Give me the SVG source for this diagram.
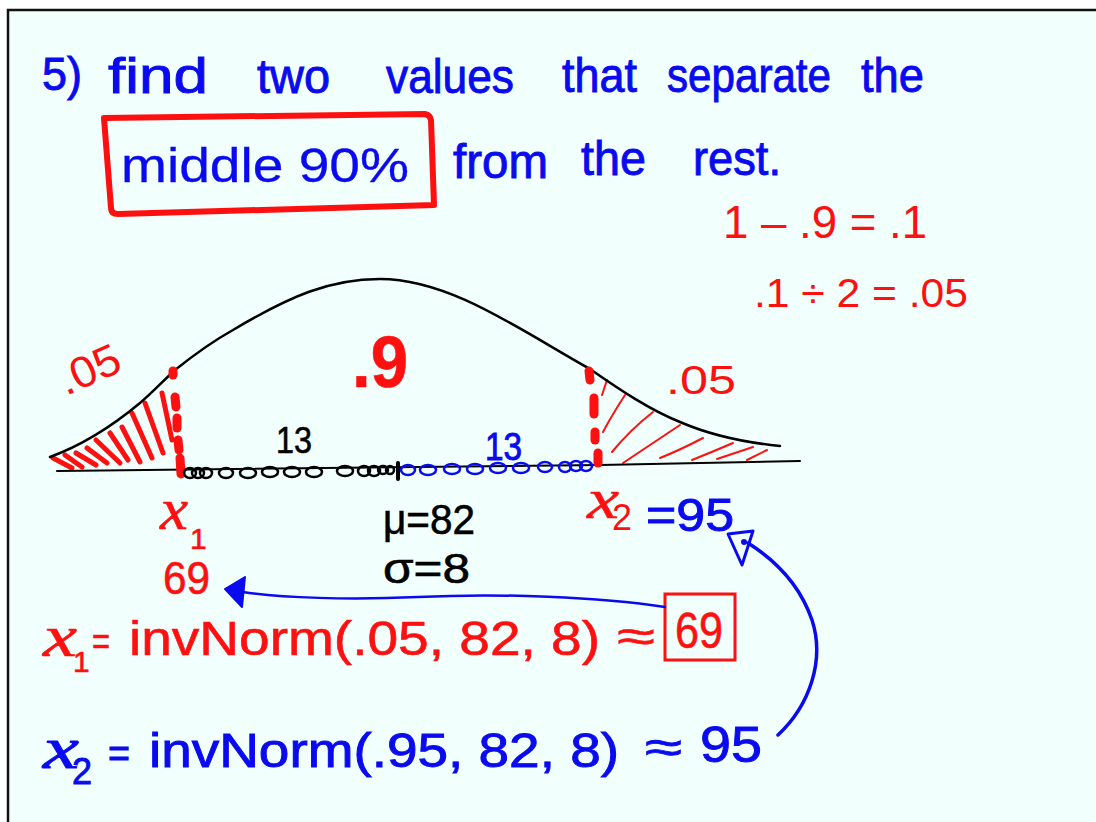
<svg xmlns="http://www.w3.org/2000/svg" width="1096" height="822" viewBox="0 0 1096 822">
<style>
.t{font-family:"Liberation Sans","DejaVu Sans",sans-serif;}
.b{fill:#0a0af0;stroke:#0a0af0;stroke-width:0.9;}
.r{fill:#ff1010;stroke:#ff1010;stroke-width:0.6;}
.k{fill:#000;stroke:#000;stroke-width:0.6;}
.xv{font-family:"Liberation Serif",serif;font-style:italic;}
.ink{fill:none;stroke-linecap:round;stroke-linejoin:round;}
</style>
<rect x="0" y="0" width="1096" height="822" fill="#ffffff"/>
<rect x="8" y="10" width="1100" height="830" fill="#f1fffd" stroke="#111" stroke-width="2.5"/>

<g id="heading">
<text class="t b" x="42" y="90" font-size="46" textLength="40" lengthAdjust="spacingAndGlyphs">5)</text>
<text class="t b" x="108" y="93" font-size="50" textLength="100" lengthAdjust="spacingAndGlyphs">find</text>
<text class="t b" x="257" y="93" font-size="48" textLength="73" lengthAdjust="spacingAndGlyphs">two</text>
<text class="t b" x="386" y="93" font-size="48" textLength="128" lengthAdjust="spacingAndGlyphs">values</text>
<text class="t b" x="562" y="92" font-size="48" textLength="75" lengthAdjust="spacingAndGlyphs">that</text>
<text class="t b" x="667" y="92" font-size="48" textLength="164" lengthAdjust="spacingAndGlyphs">separate</text>
<text class="t b" x="861" y="92" font-size="48" textLength="63" lengthAdjust="spacingAndGlyphs">the</text>
<text class="t b" x="121" y="182" font-size="48" textLength="288" lengthAdjust="spacingAndGlyphs" style="stroke-width:0.3">middle 90%</text>
<text class="t b" x="453" y="178" font-size="48" textLength="95" lengthAdjust="spacingAndGlyphs">from</text>
<text class="t b" x="581" y="175" font-size="48" textLength="65" lengthAdjust="spacingAndGlyphs">the</text>
<text class="t b" x="693" y="175" font-size="48" textLength="88" lengthAdjust="spacingAndGlyphs">rest.</text>
<path class="ink" d="M104,118 L425,114 Q430,115 431,120 L434,205 L118,214 Q111,214 111,208 Z" stroke="#ff1010" stroke-width="6"/>
</g>

<g id="calc">
<text class="t r" x="723" y="238" font-size="46" textLength="204" lengthAdjust="spacingAndGlyphs" style="stroke-width:0">1 – .9 = .1</text>
<text class="t r" x="754" y="307" font-size="40" textLength="214" lengthAdjust="spacingAndGlyphs" style="stroke-width:0">.1 ÷ 2 = .05</text>
</g>

<g id="curve">
<g class="ink" stroke="#ff1010" stroke-width="5">
<path d="M53,458 L72,468"/><path d="M65,455 L82,467"/><path d="M76,453 L96,465"/>
<path d="M87,448 L107,463"/><path d="M96,440 L120,463"/><path d="M110,433 L128,460"/>
<path d="M122,427 L140,462"/><path d="M132,413 L152,458"/><path d="M145,403 L163,453"/>
<path d="M162,393 L172,440"/>
</g>
<g class="ink" stroke="#ff1010" stroke-width="2">
<path d="M607,380 L602,395"/><path d="M625,395 Q612,415 603,432"/><path d="M653,412 Q630,430 612,452"/>
<path d="M680,425 Q650,445 623,463"/><path d="M703,438 Q680,450 660,458"/><path d="M733,443 Q712,452 692,460"/>
<path d="M753,447 L717,459"/><path d="M767,450 L747,460"/>
</g>
<path class="ink" d="M50,457 C80,446 110,428 140,403 C152,393 163,381 175,370 C200,350 215,340 233,330 C290,296 330,279 380,279 C450,279 520,330 590,369 C620,390 650,410 680,422 C710,435 740,442 780,446" stroke="#000" stroke-width="2.5"/>
<path class="ink" d="M57,471 L600,465 L800,461" stroke="#000" stroke-width="2"/>
<g class="ink" stroke="#ff1010" stroke-width="9">
<path d="M173,371 L173,375"/><path d="M175,397 L176,407"/><path d="M177,418 L177,428"/><path d="M178,440 L179,450"/><path d="M180,458 L181,474"/>
<path d="M589,371 L590,380"/><path d="M594,398 L594,414"/><path d="M595,432 L595,440"/><path d="M598,453 L598,463"/>
</g>
<g fill="none" stroke="#000" stroke-width="2.5">
<ellipse cx="190" cy="473" rx="6" ry="5"/><ellipse cx="198" cy="473" rx="6" ry="5"/><ellipse cx="206" cy="473" rx="6" ry="5"/>
<ellipse cx="226" cy="473" rx="7" ry="5"/><ellipse cx="248" cy="473" rx="8" ry="5"/><ellipse cx="270" cy="472" rx="8" ry="5"/>
<ellipse cx="292" cy="472" rx="8" ry="5"/><ellipse cx="314" cy="472" rx="8" ry="5"/><ellipse cx="345" cy="471" rx="8" ry="5"/>
<ellipse cx="364" cy="471" rx="6" ry="5"/><ellipse cx="374" cy="471" rx="6" ry="5"/><ellipse cx="383" cy="470" rx="5" ry="4"/><ellipse cx="390" cy="470" rx="4" ry="4"/>
</g>
<path class="ink" d="M398,463 L398,479" stroke="#000" stroke-width="4"/>
<g fill="none" stroke="#0a0af0" stroke-width="2.5">
<ellipse cx="408" cy="470" rx="7" ry="5"/><ellipse cx="428" cy="470" rx="8" ry="5"/><ellipse cx="452" cy="469" rx="8" ry="5"/>
<ellipse cx="475" cy="469" rx="8" ry="5"/><ellipse cx="498" cy="468" rx="8" ry="5"/><ellipse cx="521" cy="468" rx="8" ry="5"/>
<ellipse cx="545" cy="467" rx="7" ry="5"/><ellipse cx="565" cy="467" rx="6" ry="5"/><ellipse cx="576" cy="466" rx="6" ry="5"/><ellipse cx="586" cy="466" rx="6" ry="5"/>
</g>
<text class="t r" x="66" y="396" font-size="44" textLength="64" lengthAdjust="spacingAndGlyphs" transform="rotate(-24 66 396)" style="stroke-width:0">.05</text>
<text class="t r" x="666" y="394" font-size="40" textLength="70" lengthAdjust="spacingAndGlyphs" style="stroke-width:0">.05</text>
<text class="t r" x="352" y="387" font-size="72" font-weight="bold" textLength="56" lengthAdjust="spacingAndGlyphs">.9</text>
<text class="t k" x="276" y="453" font-size="36" textLength="36" lengthAdjust="spacingAndGlyphs">13</text>
<text class="t b" x="485" y="460" font-size="38" textLength="37" lengthAdjust="spacingAndGlyphs">13</text>
</g>

<g id="labels">
<text class="xv r" x="160" y="529" font-size="60" textLength="28" lengthAdjust="spacingAndGlyphs">x</text>
<text class="t r" x="190" y="549" font-size="30">1</text>
<text class="t r" x="163" y="594" font-size="46" textLength="47" lengthAdjust="spacingAndGlyphs">69</text>
<text class="t k" x="383" y="534" font-size="42" textLength="92" lengthAdjust="spacingAndGlyphs">μ=82</text>
<text class="t k" x="383" y="583" font-size="42" textLength="87" lengthAdjust="spacingAndGlyphs">σ=8</text>
<text class="xv r" x="587" y="518" font-size="58" textLength="32" lengthAdjust="spacingAndGlyphs">x</text>
<text class="t r" x="612" y="530" font-size="36" style="stroke-width:0">2</text>
<text class="t b" x="646" y="531" font-size="46" textLength="88" lengthAdjust="spacingAndGlyphs">=95</text>
</g>

<g id="formulas">
<text class="xv r" x="43" y="656" font-size="60" textLength="34" lengthAdjust="spacingAndGlyphs">x</text>
<text class="t r" x="73" y="672" font-size="30">1</text>
<text class="t r" x="92" y="655" font-size="40" textLength="18" lengthAdjust="spacingAndGlyphs">=</text>
<text class="t r" x="129" y="655" font-size="48" textLength="471" lengthAdjust="spacingAndGlyphs">invNorm(.05, 82, 8)</text>
<text class="t r" x="617" y="652" font-size="46" textLength="38" lengthAdjust="spacingAndGlyphs">≈</text>
<rect x="665" y="594" width="70" height="66" fill="none" stroke="#ff1010" stroke-width="3"/>
<text class="t r" x="675" y="648" font-size="50" textLength="48" lengthAdjust="spacingAndGlyphs">69</text>
<text class="xv b" x="43" y="768" font-size="60" textLength="36" lengthAdjust="spacingAndGlyphs">x</text>
<text class="t b" x="72" y="784" font-size="36">2</text>
<text class="t b" x="108" y="767" font-size="40" textLength="22" lengthAdjust="spacingAndGlyphs">=</text>
<text class="t b" x="149" y="767" font-size="48" textLength="470" lengthAdjust="spacingAndGlyphs">invNorm(.95, 82, 8)</text>
<text class="t b" x="645" y="763" font-size="46" textLength="37" lengthAdjust="spacingAndGlyphs">≈</text>
<text class="t b" x="700" y="762" font-size="50" textLength="62" lengthAdjust="spacingAndGlyphs">95</text>
</g>

<g id="connectors">
<path class="ink" d="M665,607 C600,597 500,593 418,597 C350,600 280,598 243,592" stroke="#0a0af0" stroke-width="2.5"/>
<path d="M225,589 L245,577 L242,607 Z" fill="#0a0af0" stroke="#0a0af0" stroke-width="2" stroke-linejoin="round"/>
<path class="ink" d="M778,735 C810,705 825,660 812,620 C800,585 775,560 748,543" stroke="#0a0af0" stroke-width="3.5"/>
<path class="ink" d="M728,534 L753,531 L742,565 Z" stroke="#0a0af0" stroke-width="3"/>
<circle cx="744" cy="542" r="3" fill="#0a0af0"/>
</g>
</svg>
